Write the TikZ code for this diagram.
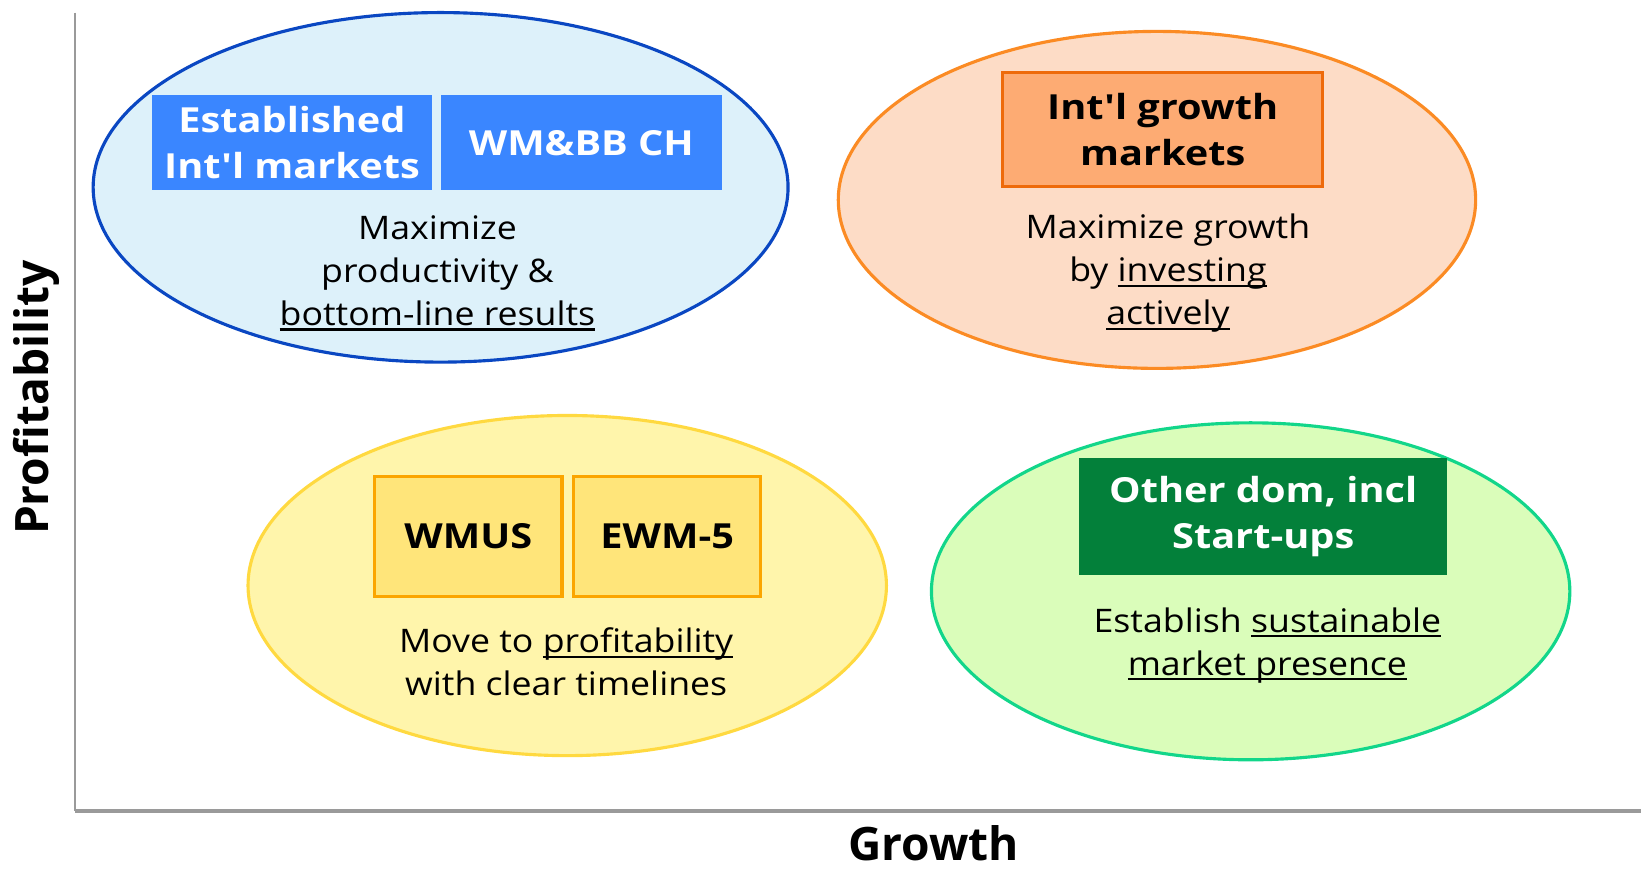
\documentclass[tikz,border=0pt]{standalone}
\usepackage{fontspec}
\setmainfont{Open Sans}[Ligatures=TeXOff]
\newfontfamily\bodyfont{Open Sans}[FakeStretch=1.1, Ligatures=TeXOff]
\newfontfamily\boxfont{Open Sans}[FakeStretch=1.15, Ligatures=TeXOff]
\usetikzlibrary{shapes.geometric}
\definecolor{axgray}{HTML}{9A9A9A}
\definecolor{bfill}{HTML}{DDF1FA}
\definecolor{bline}{HTML}{0A47C2}
\definecolor{bbox}{HTML}{3A86FF}
\definecolor{ofill}{HTML}{FDDCC6}
\definecolor{oline}{HTML}{FB8B24}
\definecolor{obox}{HTML}{FDAB73}
\definecolor{oboxline}{HTML}{EE6A0A}
\definecolor{yfill}{HTML}{FFF5AB}
\definecolor{yline}{HTML}{FFD940}
\definecolor{ybox}{HTML}{FFE57A}
\definecolor{yboxline}{HTML}{FBA500}
\definecolor{gfill}{HTML}{DAFDBA}
\definecolor{gline}{HTML}{12D68A}
\definecolor{gbox}{HTML}{03803A}
\newcommand{\ulin}[1]{\setbox0\hbox{#1}\rlap{\rule[-0.16em]{\wd0}{0.065em}}\box0}
\newcommand{\apo}{\symbol{"27}}
\tikzset{
  oval/.style={ellipse, line width=3pt, inner sep=0pt},
  bodytext/.style={align=center, font=\bodyfont\fontsize{31}{41}\selectfont, inner sep=0pt},
  boxtext/.style={align=center, font=\boxfont\fontsize{33}{44}\selectfont\bfseries, inner sep=0pt},
  axlabel/.style={font=\fontsize{44}{50}\selectfont\bfseries, inner sep=0pt},
}
\begin{document}
\begin{tikzpicture}[x=1pt,y=-1pt]
\useasboundingbox (0,0) rectangle (1568,835);
% axes
\coordinate (otop) at (72,12);
\coordinate (orig) at (72,775);
\coordinate (xend) at (1568,775);
\draw[axgray, line width=2pt] (otop) -- (orig);
\draw[axgray, line width=3.5pt] (orig) -- (xend);
\node[axlabel, rotate=90] (ylab) at (35,380) {Profitability};
\node[axlabel, anchor=base, text depth=0pt] (xlab) at (892,822) {Growth};
% blue
\node[oval, draw=bline, fill=bfill, minimum width=664pt, minimum height=334pt] (e1) at (421,179) {};
\node[boxtext, fill=bbox, text=white, minimum width=268pt, minimum height=91pt] (b1a) at (279,136.5) {Established\\Int\apo l markets};
\node[boxtext, fill=bbox, text=white, minimum width=269pt, minimum height=91pt] (b1b) at (555.5,136.5) {WM\&BB CH};
\node[bodytext] (t1) at (418,261) {Maximize\\productivity \&\\\ulin{bottom-line results}};
% orange
\node[oval, draw=oline, fill=ofill, minimum width=609pt, minimum height=322pt] (e2) at (1105.5,191) {};
\node[boxtext, fill=obox, draw=oboxline, line width=3pt, minimum width=306pt, minimum height=109pt] (b2) at (1111,123.5) {Int\apo l growth\\markets};
\node[bodytext] (t2) at (1116,261) {Maximize growth\\by \ulin{investing}\\\ulin{actively}};
% yellow
\node[oval, draw=yline, fill=yfill, minimum width=610pt, minimum height=325pt] (e3) at (542,559.5) {};
\node[boxtext, fill=ybox, draw=yboxline, line width=3pt, minimum width=179pt, minimum height=115pt] (b3a) at (447.5,512.5) {WMUS};
\node[boxtext, fill=ybox, draw=yboxline, line width=3pt, minimum width=179pt, minimum height=115pt] (b3b) at (637.5,512.5) {EWM-5};
\node[bodytext] (t3) at (541,632.5) {Move to \ulin{profitability}\\with clear timelines};
% green
\node[oval, draw=gline, fill=gfill, minimum width=610pt, minimum height=322pt] (e4) at (1195,565) {};
\node[boxtext, fill=gbox, text=white, minimum width=352pt, minimum height=111pt] (b4) at (1207,493.5) {Other dom, incl\\Start-ups};
\node[bodytext] (t4) at (1211,616.5) {Establish \ulin{sustainable}\\\ulin{market presence}};
\end{tikzpicture}
\end{document}
